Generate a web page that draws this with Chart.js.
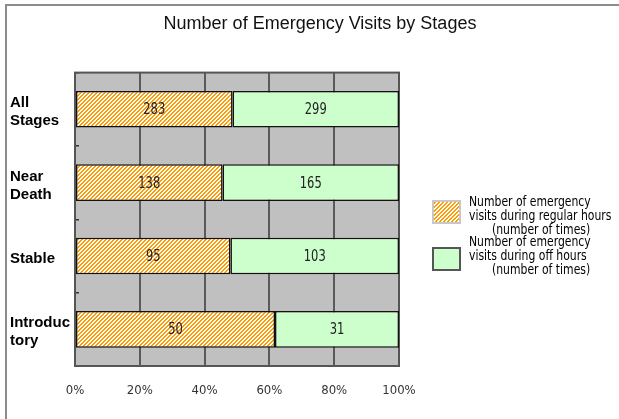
<!DOCTYPE html>
<html>
<head>
<meta charset="utf-8">
<script src="https://cdn.jsdelivr.net/npm/chart.js@4.4.1/dist/chart.umd.min.js"></script>
<style>
  html, body { margin: 0; padding: 0; background: #fff; overflow: hidden; }
  #wrap { position: absolute; left: 0; top: 0; width: 619px; height: 419px; overflow: hidden; }
</style>
</head>
<body>
<div id="wrap"><canvas id="chart" width="640" height="419"></canvas></div>
<script>
const categories = [["All", "Stages"], ["Near", "Death"], "Stable", ["Introduc", "tory"]];
const regularHours = [283, 138, 95, 50];
const offHours = [299, 165, 103, 31];
const xTicks = [0, 20, 40, 60, 80, 100];
const regularLegend = ["Number of emergency", "visits during regular hours", "(number of times)"];
const offLegend = ["Number of emergency", "visits during off hours", "(number of times)"];

const narrow = "'DejaVu Sans Condensed', 'Liberation Sans', sans-serif";

// share of each row, so both parts add up to 100%
const totals = regularHours.map((v, i) => v + offHours[i]);
const regularPct = regularHours.map((v, i) => v / totals[i] * 100);
const offPct = offHours.map((v, i) => v / totals[i] * 100);

// orange "/" hatch like the spreadsheet fill
function makeHatch() {
  const c = document.createElement("canvas");
  c.width = 4; c.height = 4;
  const g = c.getContext("2d");
  g.fillStyle = "#ffffff";
  g.fillRect(0, 0, 4, 4);
  g.fillStyle = "#ff9a00";
  for (let x = 0; x < 4; x++) {
    for (let y = 0; y < 4; y++) {
      if ((x + y) % 4 < 2) g.fillRect(x, y, 1, 1);
    }
  }
  return g.createPattern(c, "repeat");
}
const hatch = makeHatch();

// squeezed text, the original uses a narrow gothic face
function narrowText(ctx, text, x, y, sx) {
  ctx.save();
  ctx.translate(x, y);
  ctx.scale(sx, 1);
  ctx.fillText(text, 0, 0);
  ctx.restore();
}

const plotBackground = {
  id: "plotBackground",
  beforeDraw(chart) {
    const { ctx, chartArea: a } = chart;
    ctx.save();
    // outer frame, only left and top edges show in the crop
    ctx.strokeStyle = "#8c8c8c";
    ctx.lineWidth = 2;
    ctx.beginPath();
    ctx.moveTo(6, chart.height);
    ctx.lineTo(6, 5);
    ctx.lineTo(chart.width, 5);
    ctx.stroke();
    ctx.fillStyle = "#c0c0c0";
    ctx.fillRect(a.left, a.top, a.right - a.left, a.bottom - a.top);
    ctx.restore();
  },
  beforeDatasetsDraw(chart) {
    const { ctx, chartArea: a } = chart;
    ctx.save();
    ctx.strokeStyle = "#555";
    ctx.lineWidth = 2;
    ctx.strokeRect(a.left, a.top, a.right - a.left, a.bottom - a.top);
    ctx.restore();
  }
};

const valueLabels = {
  id: "valueLabels",
  afterDatasetsDraw(chart) {
    const ctx = chart.ctx;
    ctx.save();
    ctx.font = "16px " + narrow;
    ctx.fillStyle = "#222";
    ctx.textAlign = "center";
    ctx.textBaseline = "middle";
    chart.data.datasets.forEach((ds, di) => {
      chart.getDatasetMeta(di).data.forEach((bar, i) => {
        const p = bar.getProps(["x", "y", "base"], true);
        narrowText(ctx, String(ds.counts[i]), (p.x + p.base) / 2, p.y + 1, 0.8);
      });
    });
    ctx.restore();
  }
};

const sideLegend = {
  id: "sideLegend",
  afterDraw(chart) {
    const ctx = chart.ctx;
    const items = [
      { ds: chart.data.datasets[0], lines: regularLegend, boxY: 201, textY: 206, edge: "#c8c8c8" },
      { ds: chart.data.datasets[1], lines: offLegend, boxY: 248, textY: 246, edge: "#555" }
    ];
    ctx.save();
    items.forEach(it => {
      ctx.fillStyle = it.ds.backgroundColor;
      ctx.fillRect(433, it.boxY, 27, 22);
      ctx.strokeStyle = it.edge;
      ctx.lineWidth = 2;
      ctx.strokeRect(433, it.boxY, 27, 22);
      ctx.fillStyle = "#000";
      ctx.font = "14px " + narrow;
      ctx.textAlign = "left";
      ctx.textBaseline = "alphabetic";
      it.lines.forEach((t, k) => {
        narrowText(ctx, t, k === 2 ? 492 : 469, it.textY + k * 14, 0.86);
      });
    });
    ctx.restore();
  }
};

new Chart(document.getElementById("chart"), {
  type: "bar",
  data: {
    labels: categories,
    datasets: [
      {
        label: regularLegend.join(" "),
        data: regularPct,
        counts: regularHours,
        backgroundColor: hatch,
        borderColor: "#111",
        borderWidth: 1.5,
        borderSkipped: false
      },
      {
        label: offLegend.join(" "),
        data: offPct,
        counts: offHours,
        backgroundColor: "#ccffcc",
        borderColor: "#111",
        borderWidth: 1.5,
        borderSkipped: false
      }
    ]
  },
  options: {
    indexAxis: "y",
    responsive: false,
    animation: false,
    events: [],
    layout: { padding: { left: 10, right: 10, top: 0, bottom: 0 } },
    datasets: { bar: { categoryPercentage: 1, barPercentage: 0.5 } },
    scales: {
      x: {
        stacked: true,
        min: 0,
        max: 100,
        afterBuildTicks: s => { s.ticks = xTicks.map(v => ({ value: v })); },
        afterFit: s => { s.height = 53; },
        grid: { color: "#5a5a5a", lineWidth: 2, drawTicks: false },
        border: { display: false },
        ticks: {
          padding: 17,
          color: "#333",
          font: { family: narrow, size: 13 },
          callback: v => v + "%"
        }
      },
      y: {
        stacked: true,
        afterFit: s => { s.width = 65; },
        grid: { drawOnChartArea: false, tickLength: -4, color: "#333", lineWidth: 1.5 },
        border: { display: false },
        ticks: {
          crossAlign: "far",
          autoSkip: false,
          labelOffset: 3,
          color: "#000",
          font: { family: "'Liberation Sans', Arial, sans-serif", size: 15, weight: "bold", lineHeight: 1.2 }
        }
      },
      side: {
        type: "linear",
        position: "right",
        display: true,
        afterFit: s => { s.width = 231; },
        grid: { display: false },
        border: { display: false },
        ticks: { display: false }
      }
    },
    plugins: {
      legend: { display: false },
      tooltip: { enabled: false },
      title: {
        display: true,
        text: "Number of Emergency Visits by Stages",
        color: "#111",
        font: { family: "'Liberation Sans', Arial, sans-serif", size: 18, weight: "normal", lineHeight: 1.2 },
        padding: { top: 13, bottom: 38 }
      }
    }
  },
  plugins: [plotBackground, valueLabels, sideLegend]
});
</script>
</body>
</html>
